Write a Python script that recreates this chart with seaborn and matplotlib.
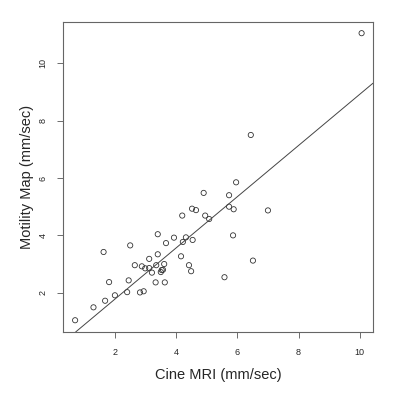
import numpy as np
import matplotlib
matplotlib.use("Agg")
import matplotlib.pyplot as plt
import seaborn as sns
import pandas as pd

# values
cine_mri = [0.70, 1.30, 1.68, 1.81, 1.63, 2.00, 2.40, 2.45, 2.50, 2.65,
            2.82, 2.94, 2.88, 2.99, 3.12, 3.12, 3.21, 3.33, 3.35, 3.40,
            3.40, 3.50, 3.53, 3.57, 3.61, 3.63, 3.67, 3.93, 4.16, 4.20,
            4.22, 4.32, 4.42, 4.49, 4.54, 4.52, 4.65, 4.90, 4.95, 5.08,
            5.58, 5.73, 5.73, 5.86, 5.88, 5.96, 6.51, 7.00, 6.44, 10.06]
motility_map = [1.04, 1.49, 1.72, 2.37, 3.42, 1.91, 2.02, 2.43, 3.65, 2.96,
                2.01, 2.05, 2.92, 2.85, 3.18, 2.86, 2.70, 2.36, 2.96, 3.34,
                4.04, 2.72, 2.79, 2.80, 3.00, 2.36, 3.73, 3.92, 3.27, 4.69,
                3.77, 3.93, 2.96, 2.75, 3.84, 4.93, 4.88, 5.48, 4.69, 4.57,
                2.54, 5.40, 5.00, 4.00, 4.91, 5.85, 3.12, 4.87, 7.50, 11.05]
x_ticks = [2, 4, 6, 8, 10]
y_ticks = [2, 4, 6, 8, 10]

# fitted line as drawn in the reference
fit_intercept = -0.01
fit_slope = 0.893

df = pd.DataFrame({"cine": cine_mri, "motility": motility_map})

sns.set_style("ticks")
plt.rcParams["font.family"] = ["Liberation Sans", "DejaVu Sans"]

fig = plt.figure(figsize=(3.98, 4.0), dpi=100)
ax = fig.add_axes([0.1595, 0.17, 0.7775, 0.775])

sns.scatterplot(data=df, x="cine", y="motility", ax=ax, marker="o",
                facecolors="none", edgecolor="#333333", s=14, linewidth=0.6)
ax.axline((0, fit_intercept), slope=fit_slope, color="#444444", linewidth=0.7)

ax.set_xlim(0.32, 10.43)
ax.set_ylim(0.63, 11.44)
ax.set_xticks(x_ticks)
ax.set_yticks(y_ticks)
ax.set_xticklabels([str(t) for t in x_ticks], fontsize=6.5)
ax.set_yticklabels([str(t) for t in y_ticks], fontsize=6.5, rotation=90, va="center")
ax.tick_params(length=4.5, width=0.6, color="#555555", pad=7)
for s in ax.spines.values():
    s.set_color("#666666")
    s.set_linewidth(0.8)

ax.set_xlabel("Cine MRI (mm/sec)", fontsize=10.5, labelpad=8)
ax.set_ylabel("Motility Map (mm/sec)", fontsize=10.5, labelpad=3)

fig.savefig("out.png", dpi=100)
